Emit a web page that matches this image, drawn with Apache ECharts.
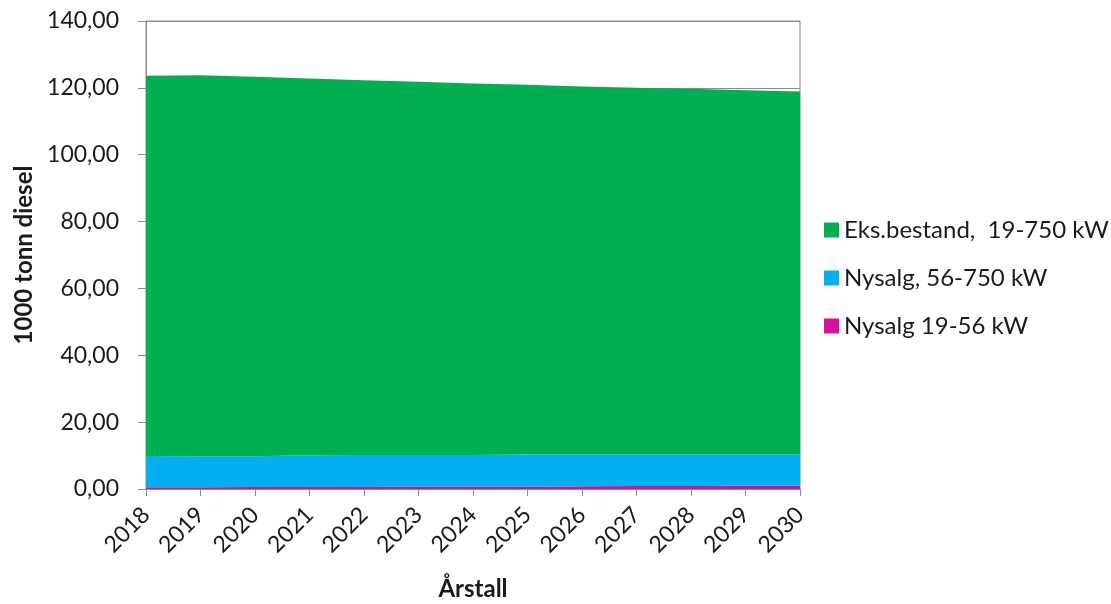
<!DOCTYPE html>
<html>
<head>
<meta charset="utf-8">
<script src="https://cdn.jsdelivr.net/npm/echarts@6/dist/echarts.min.js"></script>
<style>
  html, body { margin: 0; padding: 0; background: #fff; }
  #chart { width: 1111px; height: 604px; }
</style>
</head>
<body>
<div id="chart"></div>
<script>
// Diesel consumption (1000 tonn) by machine segment, stacked
const years = ['2018','2019','2020','2021','2022','2023','2024','2025','2026','2027','2028','2029','2030'];
const nysalgSmall = [0.55, 0.55, 0.6, 0.6, 0.6, 0.65, 0.65, 0.7, 0.85, 0.9, 0.9, 0.95, 0.95];
const nysalgLarge = [9.35, 9.25, 9.2, 9.5, 9.6, 9.55, 9.55, 9.6, 9.45, 9.4, 9.4, 9.35, 9.35];
const eksBestand  = [113.7, 114.0, 113.5, 112.7, 112.1, 111.6, 111.1, 110.6, 110.1, 109.7, 109.4, 109.0, 108.6];
const seriesNames = ['Eks.bestand,  19-750 kW', 'Nysalg, 56-750 kW', 'Nysalg 19-56 kW'];

const FONT = 'Lato, "Noto Sans", sans-serif';
const TEXT = '#1a1a1a';
const chart = echarts.init(document.getElementById('chart'));

function areaSeries(name, data, color) {
  return {
    name: name,
    type: 'line',
    stack: 'total',
    data: data,
    symbol: 'none',
    lineStyle: { width: 0 },
    areaStyle: { color: color, opacity: 1 },
    itemStyle: { color: color }
  };
}

chart.setOption({
  animation: false,
  grid: {
    left: 146, right: 311, top: 21, bottom: 115,
    outerBoundsMode: 'none',
    show: true, borderColor: '#8c8c8c', borderWidth: 1
  },
  legend: {
    orient: 'vertical',
    left: 819, top: 213,
    itemWidth: 15, itemHeight: 15, itemGap: 24,
    icon: 'rect',
    data: seriesNames,
    textStyle: { fontFamily: FONT, fontSize: 24, color: TEXT }
  },
  xAxis: {
    type: 'category',
    data: years,
    boundaryGap: false,
    name: 'Årstall',
    nameLocation: 'middle',
    nameGap: 88,
    nameTextStyle: { fontFamily: FONT, fontSize: 24, fontWeight: 'bold', color: TEXT },
    axisLine: { show: true, lineStyle: { color: '#8c8c8c' } },
    axisTick: { show: true, length: 7, lineStyle: { color: '#8c8c8c' } },
    axisLabel: { rotate: 45, fontFamily: FONT, fontSize: 23, color: TEXT, margin: 22, interval: 0 },
    splitLine: { show: false }
  },
  yAxis: {
    type: 'value',
    min: 0, max: 140, interval: 20,
    name: '1000 tonn diesel',
    nameLocation: 'middle',
    nameGap: 107,
    nameRotate: 90,
    nameTextStyle: { fontFamily: FONT, fontSize: 24, fontWeight: 'bold', color: TEXT },
    axisLine: { show: true, lineStyle: { color: '#8c8c8c' } },
    axisTick: { show: true, length: 8, lineStyle: { color: '#8c8c8c' } },
    axisLabel: {
      fontFamily: FONT, fontSize: 23, color: TEXT, margin: 27,
      formatter: v => v.toFixed(2).replace('.', ',')
    },
    splitLine: { show: true, lineStyle: { color: '#8c8c8c', width: 1 } }
  },
  series: [
    areaSeries(seriesNames[2], nysalgSmall, '#DE0C9B'),
    areaSeries(seriesNames[1], nysalgLarge, '#00B0F0'),
    areaSeries(seriesNames[0], eksBestand, '#00B050')
  ]
});
</script>
</body>
</html>
